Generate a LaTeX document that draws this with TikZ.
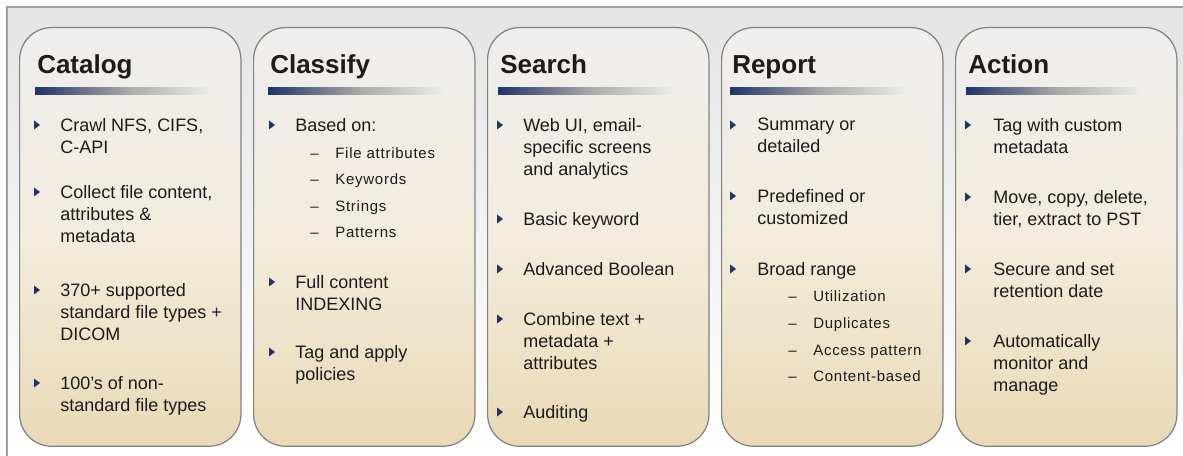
\documentclass[tikz,border=0pt]{standalone}
\usepackage{fontspec}
\setmainfont{Liberation Sans}
\newfontfamily\subfont[LetterSpace=5]{Liberation Sans}
\usetikzlibrary{positioning}

\definecolor{navy}{HTML}{1F3466}
\definecolor{framegray}{HTML}{A0A0A0}
\definecolor{bggray}{HTML}{E4E4E4}
\definecolor{panelgray}{HTML}{808080}
\definecolor{paneltop}{HTML}{EEEEEE}
\definecolor{panelmid}{HTML}{F3ECDD}
\definecolor{panelbeige}{HTML}{E9D9B5}
\definecolor{textdark}{HTML}{1C1C1C}

\tikzset{
  panel/.style={draw=panelgray, line width=0.9pt, rounded corners=24pt,
    top color=paneltop, bottom color=panelbeige, middle color=panelmid,
    minimum width=166pt, minimum height=314pt, anchor=north west, inner sep=0pt},
  title/.style={font=\fontsize{19.5}{22}\selectfont\bfseries, text=textdark,
    inner sep=0pt, anchor=base west},
  bar/.style={left color=navy, right color=paneltop, middle color=gray!70},
  item/.style={font=\fontsize{13.5}{16.5}\selectfont, text=textdark, align=left,
    inner sep=0pt, anchor=north west},
  subitem/.style={font=\fontsize{11.25}{13}\subfont, text=textdark,
    inner sep=0pt, anchor=north west},
  bul/.pic={\fill[navy] (-3,-4.5) -- (3,0) -- (-3,4.5) -- cycle;}
}

\begin{document}
\begin{tikzpicture}[x=0.75pt, y=-0.75pt]
  \useasboundingbox (0,0) rectangle (1183,456);

  % Frame
  \fill[top color=bggray, bottom color=white] (7,7) rectangle (1183,456);
  \draw[framegray, line width=0.8pt] (7,456) -- (7,7) -- (1183,7);

  % Panels, titles and header bars
  \foreach \nm/\px/\tx/\ttl in {catalog/19/37/Catalog, classify/253/270/Classify,
      search/487/500/Search, report/721/732/Report, action/955/968/Action} {
    \node[panel] (\nm) at (\px,27) {};
    \node[title] (\nm-title) at (\tx,74) {\ttl};
    \shade[bar] (\tx-2,88) rectangle (\tx+175,95);
  }

  % Catalog
  \foreach \yy/\txt [count=\i] in {125/{Crawl NFS, CIFS,\\C-API},
      192/{Collect file content,\\attributes \&\\metadata},
      290/{370+ supported\\standard file types +\\DICOM},
      383/{100's of non-\\standard file types}} {
    \node[item] (catalog-\i) at (60,\yy-7) {\txt};
    \path (catalog-\i.north west) ++(-23,7) pic {bul};
  }

  % Classify
  \foreach \yy/\txt [count=\i] in {125/{Based on:},
      282/{Full content\\INDEXING},
      352/{Tag and apply\\policies}} {
    \node[item] (classify-\i) at (295,\yy-7) {\txt};
    \path (classify-\i.north west) ++(-23,7) pic {bul};
  }
  \foreach \yy/\txt [count=\i] in {153/File attributes, 179/Keywords,
      206/Strings, 232/Patterns}
    \node[subitem] (classify-s\i) at (310,\yy-5.5)
      {\makebox[18.75pt][l]{\textendash}\txt};

  % Search
  \foreach \yy/\txt [count=\i] in {125/{Web UI, email-\\specific screens\\and analytics},
      219/{Basic keyword},
      269/{Advanced Boolean},
      319/{Combine text +\\metadata +\\attributes},
      412/{Auditing}} {
    \node[item] (search-\i) at (523,\yy-7) {\txt};
    \path (search-\i.north west) ++(-23,7) pic {bul};
  }

  % Report
  \foreach \yy/\txt [count=\i] in {125/{Summary or\\detailed},
      196/{Predefined or\\customized},
      269/{Broad range}} {
    \node[item] (report-\i) at (757,\yy-7) {\txt};
    \path (report-\i.north west) ++(-24,7) pic {bul};
  }
  \foreach \yy/\txt [count=\i] in {296/Utilization, 323/Duplicates,
      350/Access pattern, 376/Content-based}
    \node[subitem] (report-s\i) at (788,\yy-5.5)
      {\makebox[18.75pt][l]{\textendash}\txt};

  % Action
  \foreach \yy/\txt [count=\i] in {125/{Tag with custom\\metadata},
      197/{Move, copy, delete,\\tier, extract to PST},
      269/{Secure and set\\retention date},
      341/{Automatically\\monitor and\\manage}} {
    \node[item] (action-\i) at (993,\yy-7) {\txt};
    \path (action-\i.north west) ++(-25,7) pic {bul};
  }
\end{tikzpicture}
\end{document}
